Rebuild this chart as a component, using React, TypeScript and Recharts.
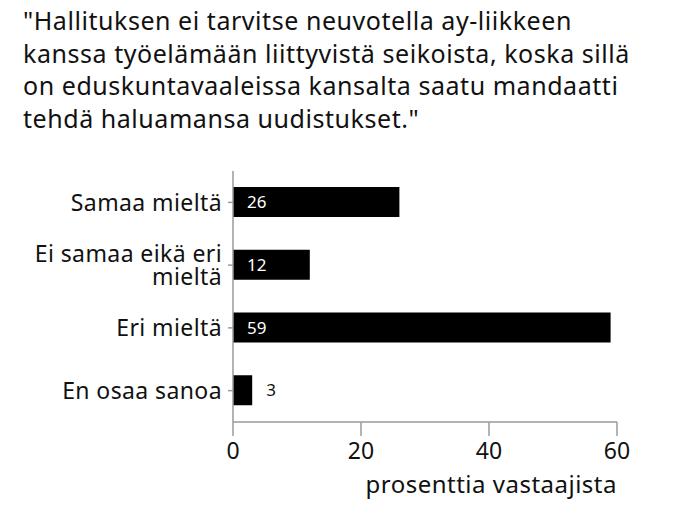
import React from "react";
import { BarChart, Bar, XAxis, YAxis, LabelList } from "recharts";

const titleLines = [
  "\"Hallituksen ei tarvitse neuvotella ay-liikkeen",
  "kanssa työelämään liittyvistä seikoista, koska sillä",
  "on eduskuntavaaleissa kansalta saatu mandaatti",
  "tehdä haluamansa uudistukset.\"",
];
const categories = ["Samaa mieltä", "Ei samaa eikä eri mieltä", "Eri mieltä", "En osaa sanoa"];
const values = [26, 12, 59, 3];
const xTicks = [0, 20, 40, 60];
const xLabel = "prosenttia vastaajista";

const data = categories.map((c, i) => ({ name: c, value: values[i] }));

const FONT = "'Noto Sans', sans-serif";
const AXIS = "#9a9a9a";

function wrap(label: string, max: number): string[] {
  if (label.length <= max) return [label];
  const idx = label.lastIndexOf(" ", max);
  return [label.slice(0, idx), label.slice(idx + 1)];
}

const YTick = (props: any) => {
  const { x, y, payload } = props;
  const lines = wrap(String(payload.value), 18);
  const lh = 23;
  const start = -((lines.length - 1) * lh) / 2;
  return (
    <text x={x} y={y} textAnchor="end" fontFamily={FONT} fontSize={23} letterSpacing={0.4} fill="#111">
      {lines.map((l, i) => (
        <tspan key={i} x={x} y={y + start + i * lh} dy="0.36em">
          {l}
        </tspan>
      ))}
    </text>
  );
};

const BarLabel = (props: any) => {
  const { x, y, width, height, value } = props;
  const inside = value >= 8;
  return (
    <text
      x={inside ? x + 14 : x + width + 14}
      y={y + height / 2}
      dy="0.36em"
      fontFamily={FONT}
      fontSize={17}
      fill={inside ? "#fff" : "#111"}
    >
      {value}
    </text>
  );
};

const XLabel = (props: any) => {
  const { viewBox } = props;
  const { x, y, width } = viewBox;
  return (
    <text x={x + width} y={y + 71} textAnchor="end" fontFamily={FONT} fontSize={24} letterSpacing={0.5} fill="#111">
      {xLabel}
    </text>
  );
};

export default function App() {
  return (
    <div style={{ position: "absolute", left: 0, top: 0, width: 680, height: 516, background: "#fff" }}>
      <div
        style={{
          position: "absolute",
          left: 23,
          top: 4,
          fontFamily: FONT,
          fontSize: 25,
          letterSpacing: 0.55,
          lineHeight: "32.5px",
          color: "#111",
          whiteSpace: "nowrap",
        }}
      >
        {titleLines.map((l, i) => (
          <div key={i}>{l}</div>
        ))}
      </div>
      <div style={{ position: "absolute", left: 0, top: 0 }}>
        <BarChart
          width={680}
          height={516}
          data={data}
          layout="vertical"
          margin={{ top: 171, right: 63, bottom: 0, left: 0 }}
        >
          <XAxis
            type="number"
            domain={[0, 60]}
            ticks={xTicks}
            tickSize={14}
            stroke={AXIS}
            strokeWidth={1.5}
            tick={{ fill: "#111", fontSize: 23, fontFamily: FONT }}
            tickMargin={7}
            label={<XLabel />}
            height={94}
          />
          <YAxis
            type="category"
            dataKey="name"
            width={233}
            tickSize={5}
            stroke={AXIS}
            strokeWidth={1.5}
            tick={<YTick />}
            tickMargin={6}
          />
          <Bar dataKey="value" fill="#000" barSize={30} isAnimationActive={false}>
            <LabelList dataKey="value" content={<BarLabel />} />
          </Bar>
        </BarChart>
      </div>
    </div>
  );
}
